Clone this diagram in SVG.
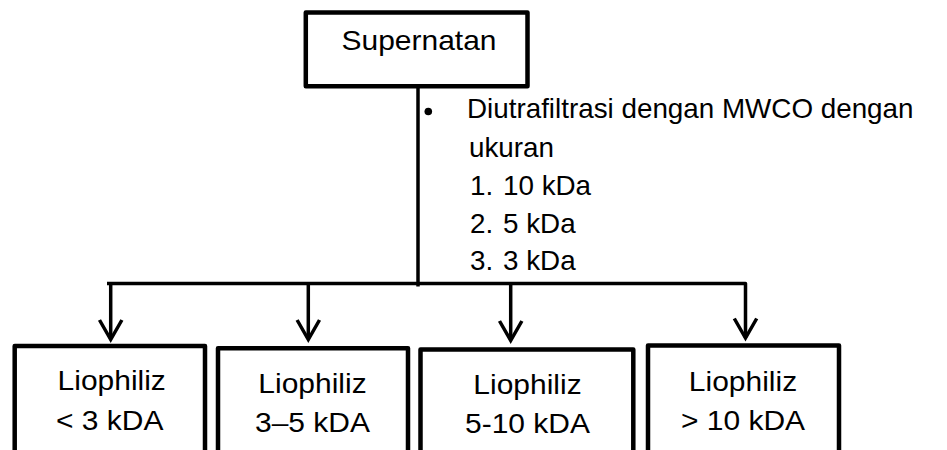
<svg xmlns="http://www.w3.org/2000/svg" width="947" height="450" viewBox="0 0 947 450">
  <defs>
    <style>
      .box { fill: #ffffff; stroke: #000000; stroke-width: 4.5; stroke-linejoin: round; }
      .wire { fill: none; stroke: #000000; stroke-width: 3.5; stroke-linejoin: round; }
      .head { fill: none; stroke: #000000; stroke-width: 3.5; stroke-linecap: butt; stroke-linejoin: miter; }
      .lbl { font-family: "Liberation Sans", Arial, sans-serif; font-size: 27px; fill: #000000; }
      .note { font-family: "Liberation Sans", Arial, sans-serif; font-size: 27.8px; fill: #000000; }
      .mid { text-anchor: middle; }
    </style>
  </defs>
  <rect width="947" height="450" fill="#ffffff"/>

  <!-- connectors: trunk, bus and four drop arrows -->
  <g id="connectors">
    <path class="wire" d="M418 88 V286.5"/>
    <path class="wire" d="M107 283.5 H745.5 V338"/>
    <path class="wire" d="M110.7 283.5 V339"/>
    <path class="wire" d="M308.3 283.5 V339"/>
    <path class="wire" d="M510.7 283.5 V340"/>
    <path class="head" d="M99.5 320 L110.7 339.5 L121.9 320"/>
    <path class="head" d="M297.1 320 L308.3 339.5 L319.5 320"/>
    <path class="head" d="M499.5 321 L510.7 340.5 L521.9 321"/>
    <path class="head" d="M734.3 318.5 L745.5 338 L756.7 318.5"/>
  </g>

  <g id="node-supernatan">
    <rect class="box" x="305.8" y="12.5" width="221.7" height="73.8"/>
    <text class="lbl mid" transform="translate(419 49.5) scale(1.11 1)">Supernatan</text>
  </g>

  <g id="note-ultrafiltration">
    <circle cx="428.3" cy="111.5" r="3.8" fill="#000000"/>
    <text class="note" x="467" y="118">Diutrafiltrasi dengan MWCO dengan</text>
    <text class="note" x="469" y="156.5">ukuran</text>
    <text class="note" x="470" y="195">1.</text>
    <text class="note" x="503" y="195">10 kDa</text>
    <text class="note" x="470" y="233">2.</text>
    <text class="note" x="503" y="233">5 kDa</text>
    <text class="note" x="470" y="270">3.</text>
    <text class="note" x="503" y="270">3 kDa</text>
  </g>

  <g id="node-lio-below-3">
    <rect class="box" x="14.7" y="346" width="190.3" height="130"/>
    <text class="lbl mid" transform="translate(111.7 390) scale(1.11 1)">Liophiliz</text>
    <text class="lbl mid" transform="translate(109.7 429.5) scale(1.11 1)">&lt; 3 kDA</text>
  </g>

  <g id="node-lio-3-5">
    <rect class="box" x="218" y="348.3" width="190" height="130"/>
    <text class="lbl mid" transform="translate(312.5 393) scale(1.11 1)">Liophiliz</text>
    <text class="lbl mid" transform="translate(312.5 432) scale(1.11 1)">3–5 kDA</text>
  </g>

  <g id="node-lio-5-10">
    <rect class="box" x="420.5" y="349.5" width="212.8" height="130"/>
    <text class="lbl mid" transform="translate(527.5 393.5) scale(1.11 1)">Liophiliz</text>
    <text class="lbl mid" transform="translate(527.5 433) scale(1.11 1)">5-10 kDA</text>
  </g>

  <g id="node-lio-above-10">
    <rect class="box" x="648" y="345.5" width="191" height="130"/>
    <text class="lbl mid" transform="translate(743 390.5) scale(1.11 1)">Liophiliz</text>
    <text class="lbl mid" transform="translate(743 430) scale(1.11 1)">&gt; 10 kDA</text>
  </g>
</svg>
